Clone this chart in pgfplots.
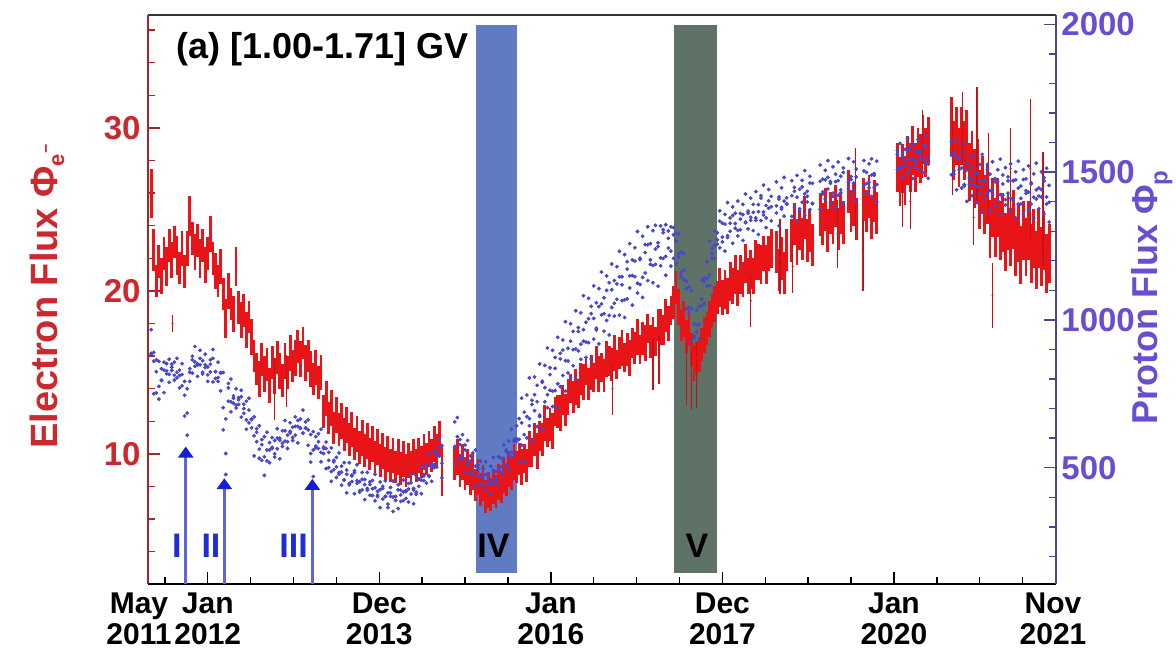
\documentclass[border=0pt]{standalone}
\usepackage{pgfplots}
\pgfplotsset{compat=1.18}
\usepackage{pgfplotstable}
\usepackage{fontspec}
\setmainfont{Liberation Sans}
\usetikzlibrary{arrows.meta}

\definecolor{eflux}{RGB}{232,20,24}
\definecolor{etext}{RGB}{205,40,45}
\definecolor{eaxis}{RGB}{160,40,40}
\definecolor{pflux}{RGB}{72,72,205}
\definecolor{ptext}{RGB}{105,78,210}
\definecolor{paxis}{RGB}{75,70,140}
\definecolor{bandIV}{RGB}{97,123,195}
\definecolor{bandV}{RGB}{94,114,104}
\definecolor{arrowshaft}{RGB}{95,100,220}
\definecolor{arrowhead}{RGB}{20,30,215}
\definecolor{romanblue}{RGB}{30,45,215}

\newcommand\tickfont{\fontsize{16.5}{16.5}\selectfont\bfseries}
\newcommand\xtickfont{\fontsize{15}{15.5}\selectfont\bfseries}

% daily-averaged fluxes: time (yr), electron flux, its error, three proton samples
\pgfplotstableread{
t E err p1 p2 p3
2011.34 26.0 1.5 967 887 885
2011.37 22.5 1.3 890 860 750
2011.40 20.6 1.0 865 825 753
2011.43 21.8 1.0 860 775 732
2011.46 20.9 1.1 835 797 795
2011.49 22.3 1.0 857 830 754
2011.52 21.5 1.2 852 828 818
2011.55 22.8 1.0 867 816 789
2011.58 21.9 1.1 850 840 829
2011.61 23.0 1.0 857 813 796
2011.64 22.2 1.2 870 823 804
2011.67 21.4 1.0 830 812 770
2011.70 22.6 1.1 852 815 777
2011.73 21.2 1.0 792 745 675
2011.76 22.6 1.1 767 685 610
2011.79 24.6 1.2 835 792 823
2011.82 23.2 1.0 877 865 820
2011.85 22.4 1.1 910 858 843
2011.88 23.1 1.0 851 848 809
2011.91 22.0 1.2 897 870 848
2011.94 22.8 1.0 862 823 817
2011.97 21.6 1.1 884 848 839
2012.00 22.3 1.0 841 814 792
2012.03 23.5 1.1 865 850 824
2012.06 22.0 1.0 900 870 790
2012.09 21.2 1.1 825 825 802
2012.12 20.6 1.0 857 792 805
2012.15 21.5 1.1 822 820 760
2012.18 19.8 1.0 822 703 628
2012.21 18.3 1.2 665 548 477
2012.24 20.0 1.1 785 770 725
2012.27 19.2 1.0 800 723 689
2012.30 18.6 1.1 735 743 718
2012.33 21.5 1.2 767 712 702
2012.36 19.0 1.0 737 730 714
2012.39 18.2 1.1 762 740 671
2012.42 18.8 1.0 715 700 684
2012.45 17.6 1.1 725 662 630
2012.48 18.4 1.0 735 695 652
2012.51 17.2 1.1 665 663 635
2012.54 16.0 1.0 672 608 540
2012.57 15.2 1.0 632 620 588
2012.60 14.6 1.1 642 563 532
2012.63 15.8 1.0 595 578 525
2012.66 14.9 1.1 605 537 474
2012.69 15.5 1.0 620 560 523
2012.72 14.2 1.1 560 585 517
2012.75 15.6 1.0 602 565 569
2012.78 14.8 1.1 592 547 536
2012.81 15.9 1.0 632 600 564
2012.84 15.1 1.1 600 593 530
2012.87 14.5 1.0 625 583 572
2012.90 15.7 1.1 660 625 590
2012.93 15.0 1.0 610 588 565
2012.96 16.2 1.1 652 623 618
2012.99 15.4 1.0 637 602 592
2013.02 15.9 1.1 672 640 610
2013.05 16.6 1.0 640 660 584
2013.08 15.8 1.1 665 635 633
2013.11 16.8 1.0 695 617 617
2013.14 15.6 1.1 635 655 634
2013.17 16.0 1.0 662 628 576
2013.20 15.2 1.1 612 548 519
2013.23 14.6 1.0 622 560 470
2013.26 15.3 1.1 605 573 567
2013.29 14.4 1.0 615 588 565
2013.32 15.0 1.1 630 552 520
2013.35 12.6 1.0 565 570 548
2013.38 13.4 1.1 587 565 497
2013.41 12.2 1.0 552 525 500
2013.44 12.8 1.1 567 487 454
2013.47 11.6 1.0 525 520 493
2013.50 12.4 1.1 535 503 467
2013.53 11.5 1.0 550 478 484
2013.56 12.0 1.1 485 505 441
2013.59 11.2 1.0 517 458 459
2013.62 11.8 1.1 492 478 415
2013.65 10.9 1.0 517 447 442
2013.68 11.5 1.1 475 472 453
2013.71 10.6 1.0 490 483 412
2013.74 11.2 1.1 510 447 456
2013.77 10.4 1.0 453 422 417
2013.80 11.0 1.1 484 461 425
2013.83 10.2 1.0 460 443 392
2013.86 10.8 1.1 484 424 430
2013.89 10.0 1.0 443 452 407
2013.92 10.6 1.1 457 406 429
2013.95 9.8 1.0 478 432 388
2013.98 10.4 1.1 420 402 407
2014.01 9.6 1.0 452 426 365
2014.04 10.2 1.1 430 437 394
2014.07 9.4 1.0 456 403 403
2014.10 10.0 1.1 415 377 365
2014.13 9.3 1.0 433 415 403
2014.16 9.9 1.1 455 401 352
2014.19 9.2 1.0 403 390 390
2014.22 9.8 1.1 442 425 362
2014.25 9.1 1.0 424 386 408
2014.28 9.7 1.1 458 418 389
2014.31 9.0 1.0 423 396 419
2014.34 9.6 1.1 447 428 384
2014.37 9.2 1.0 478 449 411
2014.40 9.8 1.1 430 425 378
2014.43 9.3 1.0 474 410 417
2014.46 9.9 1.1 462 461 437
2014.49 9.5 1.0 502 458 412
2014.52 10.1 1.1 477 456 472
2014.55 9.7 1.0 510 500 448
2014.58 10.3 1.1 548 470 473
2014.61 9.9 1.0 505 513 454
2014.64 10.6 1.1 557 500 510
2014.67 10.2 1.0 550 540 502
2014.70 10.9 1.1 597 570 539
2014.73 9.0 1.6 575 515 466
2014.88 9.4 1.0 655 572 569
2014.91 9.8 1.1 670 605 515
2014.94 9.0 1.0 595 578 532
2014.97 9.5 1.1 612 543 530
2015.00 8.8 1.0 577 560 485
2015.03 9.2 1.1 592 508 523
2015.06 8.5 1.0 540 523 477
2015.09 8.9 1.1 550 487 480
2015.12 8.1 1.0 560 505 439
2015.15 8.6 1.1 495 510 473
2015.18 7.8 1.0 522 473 445
2015.21 8.2 1.1 497 442 466
2015.24 7.4 1.0 520 477 424
2015.27 7.8 1.1 480 461 444
2015.30 7.5 1.0 505 453 410
2015.33 8.0 1.1 535 490 447
2015.36 7.7 1.0 487 456 465
2015.39 8.3 1.1 537 498 442
2015.42 8.0 1.0 532 487 503
2015.45 8.7 1.1 577 530 482
2015.48 8.4 1.0 555 560 510
2015.51 9.1 1.1 590 545 494
2015.54 8.8 1.0 630 537 553
2015.57 9.5 1.1 590 595 547
2015.60 9.2 1.0 642 598 589
2015.63 9.7 1.0 666 596 520
2015.66 9.2 1.1 735 652 576
2015.69 9.7 0.9 688 612 521
2015.72 9.3 1.0 746 673 601
2015.75 10.3 1.1 804 666 642
2015.78 10.1 0.9 728 714 590
2015.81 10.9 1.0 807 747 693
2015.84 10.2 1.1 779 723 639
2015.87 11.1 0.9 851 673 678
2015.90 10.9 1.0 793 789 631
2015.93 11.9 1.1 846 771 723
2015.96 11.3 0.9 905 747 703
2015.99 11.8 1.0 815 838 762
2016.02 11.4 1.1 897 759 707
2016.05 12.6 0.9 873 836 761
2016.08 12.6 1.0 941 784 704
2016.11 12.5 1.1 887 868 774
2016.14 13.3 0.9 932 898 812
2016.17 12.7 1.0 994 862 759
2016.20 13.5 1.1 904 821 861
2016.23 14.0 0.9 987 928 807
2016.26 13.5 1.0 961 899 845
2016.29 14.1 1.1 1031 902 800
2016.32 13.7 0.9 974 961 895
2016.35 14.6 1.0 1024 918 867
2016.38 14.4 1.1 1082 967 928
2016.41 15.1 0.9 992 925 873
2016.44 14.3 1.0 1073 1004 923
2016.47 15.0 1.1 1046 1021 868
2016.50 14.7 0.9 1115 1005 935
2016.53 15.6 1.0 1058 966 972
2016.56 14.9 1.1 1106 1045 919
2016.59 15.3 0.9 1162 1054 1017
2016.62 14.8 1.0 1075 1021 962
2016.65 15.8 1.1 1149 1100 998
2016.68 15.7 0.9 1126 1015 949
2016.71 15.5 1.0 1189 1102 1042
2016.74 16.2 1.1 1133 1056 1013
2016.77 15.5 0.9 1180 1122 1070
2016.80 16.2 1.0 1232 1146 1016
2016.83 16.5 1.1 1146 1119 1065
2016.86 15.9 0.9 1221 1068 1008
2016.89 16.4 1.0 1197 1172 1071
2016.92 15.9 1.1 1258 1149 1108
2016.95 16.8 0.9 1203 1150 1050
2016.98 16.5 1.0 1244 1199 1146
2017.01 17.2 1.1 1299 1124 1091
2017.04 16.4 0.9 1209 1204 1120
2017.07 17.1 1.0 1283 1144 1076
2017.10 16.8 1.1 1255 1228 1159
2017.13 17.7 0.9 1315 1254 1133
2017.16 16.9 1.0 1258 1203 1188
2017.19 17.3 1.1 1302 1184 1126
2017.22 16.9 0.9 1320 1240 1188
2017.25 17.9 1.0 1261 1248 1114
2017.28 17.8 1.1 1318 1210 1183
2017.31 17.6 0.9 1305 1295 1208
2017.34 18.5 1.0 1322 1215 1151
2017.37 18.0 1.1 1301 1276 1243
2017.40 18.8 0.9 1315 1233 1182
2017.43 19.3 1.0 1312 1288 1208
2017.46 20.2 1.0 1267 1295 1191
2017.49 19.0 1.1 1291 1225 1213
2017.52 17.9 1.0 1230 1159 1146
2017.55 18.3 1.1 1224 1168 1136
2017.58 17.2 1.0 1130 1106 1037
2017.61 17.7 1.1 1112 1042 1022
2017.64 16.4 1.0 1099 1038 929
2017.67 15.6 1.1 987 946 938
2017.70 15.9 1.0 1034 982 960
2017.73 16.1 1.1 1045 985 936
2017.76 16.7 1.0 1134 1071 1048
2017.79 17.3 1.1 1130 1141 1055
2017.82 17.7 1.0 1197 1141 1115
2017.85 18.3 1.1 1267 1152 1116
2017.88 18.8 1.0 1225 1242 1208
2017.91 19.2 1.1 1301 1252 1208
2017.94 19.6 1.0 1295 1256 1271
2017.97 20.2 1.2 1369 1334 1244
2018.00 19.6 1.1 1327 1264 1280
2018.03 20.1 1.2 1357 1324 1233
2018.06 19.7 1.1 1397 1285 1279
2018.09 20.6 1.2 1327 1345 1300
2018.12 20.3 1.1 1382 1353 1259
2018.15 21.0 1.2 1361 1310 1326
2018.18 20.2 1.1 1402 1303 1284
2018.21 21.0 1.2 1360 1341 1305
2018.24 20.7 1.1 1391 1356 1269
2018.27 21.7 1.2 1426 1331 1329
2018.30 20.9 1.1 1361 1368 1308
2018.33 21.3 1.2 1412 1337 1347
2018.36 20.9 1.1 1391 1364 1302
2018.39 21.9 1.2 1434 1345 1337
2018.42 21.8 1.1 1390 1366 1289
2018.45 21.6 1.2 1420 1412 1336
2018.48 22.3 1.1 1456 1365 1355
2018.51 21.6 1.2 1387 1345 1312
2018.54 22.3 1.1 1441 1403 1378
2018.57 22.6 1.2 1418 1383 1335
2018.63 22.4 1.3 1467 1386 1362
2018.66 21.3 1.3 1416 1409 1318
2018.69 22.0 1.3 1447 1375 1381
2018.72 21.1 1.3 1482 1402 1351
2018.75 22.5 1.3 1413 1391 1393
2018.81 23.1 1.3 1471 1420 1350
2018.84 24.1 1.3 1448 1435 1382
2018.87 22.9 1.3 1489 1415 1336
2018.90 23.8 1.3 1442 1366 1376
2018.93 23.2 1.3 1472 1450 1398
2018.96 24.5 1.3 1505 1427 1354
2018.99 23.1 1.3 1435 1399 1418
2019.02 23.7 1.3 1486 1463 1373
2019.05 22.8 1.3 1462 1394 1393
2019.14 24.7 1.3 1524 1469 1374
2019.17 24.1 1.3 1476 1426 1433
2019.20 25.0 1.3 1506 1474 1409
2019.23 23.7 1.3 1539 1482 1443
2019.26 24.8 1.3 1468 1462 1397
2019.29 24.2 1.3 1518 1418 1429
2019.32 25.2 1.3 1493 1468 1379
2019.35 23.8 1.3 1534 1471 1422
2019.38 24.8 1.3 1486 1430 1440
2019.41 24.2 1.3 1514 1499 1395
2019.47 26.1 1.3 1546 1445 1466
2019.50 24.9 1.3 1485 1475 1422
2019.53 25.3 1.3 1535 1463 1438
2019.56 24.4 1.3 1510 1484 1400
2019.65 25.6 1.3 1539 1504 1456
2019.68 24.9 1.3 1499 1461 1430
2019.71 25.8 1.3 1528 1447 1466
2019.74 24.5 1.3 1545 1490 1418
2019.77 25.5 1.3 1489 1495 1447
2019.80 24.8 1.3 1537 1458 1399
2020.04 27.6 1.5 1560 1574 1508
2020.07 26.7 1.5 1597 1511 1520
2020.10 27.5 1.5 1552 1565 1482
2020.13 26.8 1.5 1577 1523 1540
2020.16 28.0 1.5 1614 1573 1500
2020.19 27.6 1.5 1543 1582 1515
2020.22 28.6 1.5 1594 1545 1478
2020.25 27.6 1.5 1570 1526 1537
2020.28 28.5 1.5 1610 1570 1511
2020.31 28.1 1.5 1562 1570 1547
2020.34 29.3 1.5 1590 1542 1499
2020.37 28.5 1.5 1624 1589 1531
2020.40 29.2 1.5 1551 1527 1479
2020.67 30.1 1.8 1603 1557 1491
2020.70 28.6 1.8 1566 1493 1505
2020.73 29.5 1.8 1608 1551 1440
2020.76 28.2 1.8 1545 1548 1508
2020.79 29.5 1.8 1568 1514 1446
2020.82 28.6 1.8 1597 1453 1458
2020.85 29.3 1.8 1507 1531 1401
2020.88 27.3 1.8 1553 1481 1459
2020.91 28.0 1.8 1516 1472 1420
2020.94 26.9 1.8 1557 1496 1456
2020.97 27.5 1.8 1497 1451 1397
2021.00 25.6 1.8 1526 1472 1428
2021.03 26.5 1.8 1560 1451 1367
2021.06 25.3 1.8 1474 1469 1411
2021.09 25.9 1.8 1526 1509 1428
2021.12 23.8 1.8 1493 1437 1370
2021.15 25.1 1.8 1535 1424 1440
2021.18 23.9 1.8 1478 1467 1386
2021.21 25.1 1.8 1508 1467 1404
2021.24 23.7 1.8 1544 1424 1358
2021.27 24.2 1.8 1460 1490 1422
2021.30 23.0 1.8 1515 1407 1389
2021.33 24.3 1.8 1484 1470 1429
2021.36 23.3 1.8 1528 1411 1371
2021.39 24.4 1.8 1471 1471 1405
2021.42 22.7 1.8 1501 1474 1345
2021.45 23.6 1.8 1537 1446 1392
2021.48 22.2 1.8 1453 1392 1411
2021.51 23.7 1.8 1508 1475 1357
2021.54 22.7 1.8 1477 1437 1428
2021.57 23.7 1.8 1521 1432 1373
2021.60 22.3 1.8 1464 1460 1392
2021.63 23.2 1.8 1494 1415 1344
2021.66 21.9 1.8 1530 1440 1409
2021.69 23.2 1.8 1446 1419 1376
2021.72 22.1 1.8 1501 1441 1416
2021.75 23.1 1.8 1470 1482 1358
2021.78 21.7 1.8 1513 1416 1392
2021.81 22.3 1.8 1455 1398 1331
}\fluxdata

% single days with large excursions in the electron flux
\pgfplotstableread{
t E err
2011.59 18.0 0.5
2012.78 14.0 1.9
2012.92 14.5 1.6
2016.72 14.0 1.6
2017.19 15.5 1.6
2017.26 15.8 1.5
2017.58 15.0 2.0
2017.64 14.5 1.8
2017.70 14.8 2.0
2018.33 19.4 1.6
2018.67 22.1 2.3
2018.82 21.5 1.6
2019.34 23.5 2.1
2019.55 26.0 2.8
2019.64 22.2 2.2
2020.10 25.5 1.6
2020.19 25.5 1.7
2020.33 29.0 2.1
2020.68 28.7 2.8
2020.80 30.0 2.2
2020.93 24.5 1.7
2020.97 29.0 3.5
2021.10 27.0 2.7
2021.15 19.7 2.0
2021.36 27.5 2.5
2021.59 27.5 4.3
2021.74 25.0 3.5
}\spikes

\pgfplotsset{
  common/.style={
    scale only axis, width=454pt, height=284.5pt,
    xmin=2011.303, xmax=2021.89,
    clip=false,
    tick align=inside,
    major tick length=6pt, minor tick length=3.5pt,
    /pgf/number format/assume math mode=true,
    /pgf/number format/1000 sep={},
  },
}

\begin{document}
\begin{tikzpicture}
% time axis, shaded periods and annotations
\begin{axis}[common, name=ax,
  ymin=2.02, ymax=36.93,
  axis x line*=bottom, axis y line=none,
  x axis line style={black, line width=0.8pt},
  xtick={2012,2014,2016,2018,2020},
  xticklabels={{Jan\\2012},{Dec\\2013},{Jan\\2016},{Dec\\2017},{Jan\\2020}},
  minor xtick={2011.5,2012.5,2013,2013.5,2014.5,2015,2015.5,2016.5,2017,2017.5,2018.5,2019,2019.5,2020.5,2021,2021.5},
  tick style={black, line width=0.7pt},
  xticklabel style={font=\xtickfont, align=center, inner sep=4pt, text=black},
]
\fill[bandIV] (axis cs:2015.125,2.72) rectangle (axis cs:2015.61,36.32);
\fill[bandV] (axis cs:2017.441,2.72) rectangle (axis cs:2017.935,36.32);
\node[font=\fontsize{17}{17}\selectfont\bfseries] at (axis cs:2015.33,4.39) {IV};
\node[font=\fontsize{17}{17}\selectfont\bfseries] at (axis cs:2017.705,4.39) {V};
\draw[arrowshaft, line width=1.3pt, -{Triangle[width=7.5pt,length=5.5pt,color=arrowhead]}]
  (axis cs:2011.743,2.02) -- (axis cs:2011.743,10.45);
\draw[arrowshaft, line width=1.3pt, -{Triangle[width=7.5pt,length=5.5pt,color=arrowhead]}]
  (axis cs:2012.193,2.02) -- (axis cs:2012.193,8.51);
\draw[arrowshaft, line width=1.3pt, -{Triangle[width=7.5pt,length=5.5pt,color=arrowhead]}]
  (axis cs:2013.219,2.02) -- (axis cs:2013.219,8.47);
\node[text=romanblue, font=\fontsize{17}{17}\selectfont\bfseries] at (axis cs:2011.640,4.37) {I};
\node[text=romanblue, font=\fontsize{17}{17}\selectfont\bfseries] at (axis cs:2012.037,4.37) {II};
\node[text=romanblue, font=\fontsize{17}{17}\selectfont\bfseries] at (axis cs:2013.000,4.37) {III};
\node[anchor=west, inner sep=0pt, font=\fontsize{18}{18}\selectfont\bfseries] at (rel axis cs:0.0308,0.9395) {(a) [1.00-1.71] GV};
\node[anchor=north, inner sep=4pt, font=\xtickfont, align=center] at (rel axis cs:-0.0099,0) {May\\2011};
\node[anchor=north, inner sep=4pt, font=\xtickfont, align=center] at (rel axis cs:0.9967,0) {Nov\\2021};
\draw[black!80, line width=0.7pt] (rel axis cs:0,1) -- (rel axis cs:1,1);
\end{axis}

% electron flux, left scale
\begin{axis}[common,
  ymin=2.02, ymax=36.93,
  axis x line=none, axis y line*=left,
  y axis line style={eaxis, line width=0.8pt},
  ytick={10,20,30},
  minor ytick={4,6,8,12,14,16,18,22,24,26,28,32,34,36},
  tick style={eaxis, line width=0.7pt},
  yticklabel style={font=\tickfont, text=etext, inner sep=3.5pt},
]
\addplot[only marks, mark=*, mark size=0.35pt, eflux,
  error bars/.cd, y dir=both, y explicit, error mark=none,
  error bar style={line width=1.4pt, eflux}]
  table[x=t, y=E, y error=err] {\fluxdata};
\addplot[only marks, mark=*, mark size=0.3pt, eflux,
  error bars/.cd, y dir=both, y explicit, error mark=none,
  error bar style={line width=0.7pt, eflux!85!black}]
  table[x=t, y=E, y error=err] {\spikes};
\node[rotate=90, text=etext, font=\fontsize{19}{19}\selectfont\bfseries] at ([xshift=-50.5pt]rel axis cs:0,0.505)
  {Electron Flux Φ\raisebox{-0.35ex}{\fontsize{11}{11}\selectfont e\raisebox{1.1ex}{\fontsize{8}{8}\selectfont −}}};
\end{axis}

% proton flux, right scale
\begin{axis}[common,
  ymin=106.6, ymax=2031.5,
  axis x line=none, axis y line*=right,
  y axis line style={paxis, line width=0.8pt},
  ytick={500,1000,1500,2000},
  minor ytick={200,300,400,600,700,800,900,1100,1200,1300,1400,1600,1700,1800,1900},
  tick style={paxis, line width=0.7pt},
  yticklabel style={font=\tickfont, text=ptext, inner sep=2.5pt},
]
\addplot[only marks, mark=*, mark size=0.75pt, pflux] table[x=t, y=p1] {\fluxdata};
\addplot[only marks, mark=*, mark size=0.75pt, pflux] table[x=t, y=p2] {\fluxdata};
\addplot[only marks, mark=*, mark size=0.75pt, pflux] table[x=t, y=p3] {\fluxdata};
\node[rotate=90, text=ptext, font=\fontsize{18}{18}\selectfont\bfseries] at ([xshift=48pt]rel axis cs:1,0.503)
  {Proton Flux Φ\raisebox{-0.5ex}{\fontsize{12}{12}\selectfont p}};
\end{axis}

\pgfresetboundingbox
\path[use as bounding box] ([xshift=-74pt,yshift=-34pt]ax.south west) rectangle ([xshift=60pt,yshift=7.5pt]ax.north east);
\end{tikzpicture}
\end{document}
